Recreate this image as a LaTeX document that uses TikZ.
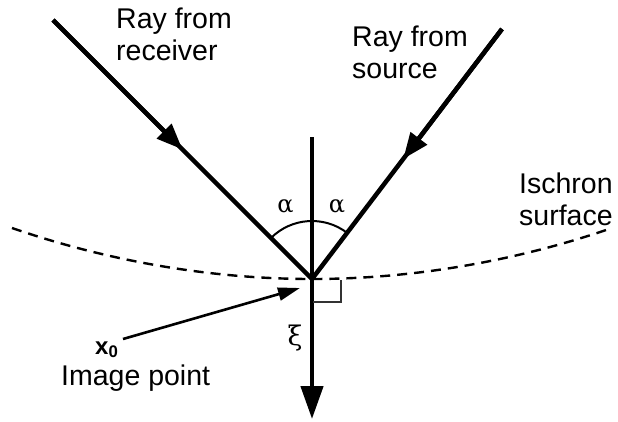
\documentclass[tikz,border=0pt]{standalone}
\usepackage{fontspec}
\setmainfont{Liberation Sans}
\newfontfamily\grkfont{DejaVu Serif}
\usetikzlibrary{arrows.meta,calc}
\begin{document}
\begin{tikzpicture}[x=1pt,y=-1pt,
  ray/.style={line width=4.5pt},
  raytip/.style={-{Triangle[length=26pt,width=20pt]}},
  lbl/.style={font=\fontsize{28.5}{32}\selectfont, align=left, inner sep=0pt, anchor=base west},
  greek/.style={font=\grkfont\fontsize{24}{27}\selectfont, inner sep=0pt},
]
\useasboundingbox (0,0) rectangle (618,421);
% points
\coordinate (P) at (312,279);
\coordinate (A) at (53,20);
\coordinate (B) at (502,29);
\coordinate (T) at (312,137);
\coordinate (Bot) at (312,419);
\coordinate (IL) at (12,228);
\coordinate (IR) at (612,228);
\coordinate (X0) at (123,339);
\coordinate (X0tip) at (300,288);
% isochron surface
\draw[line width=2.4pt, dash pattern=on 10pt off 7pt] (IL) parabola bend (P) (IR);
% rays
\draw[ray] (A) -- (P);
\draw[ray, raytip] (A) -- ($(A)!0.5!(P)$);
\draw[ray] (B) -- (P);
\draw[ray, raytip] (B) -- ($(B)!0.52!(P)$);
% normal xi
\draw[line width=3.6pt] (T) -- (P);
\draw[line width=4.5pt, -{Triangle[length=33pt,width=22pt]}] (P) -- (Bot);
% angle arc
\draw[line width=2pt] (P) ++(135:58pt) arc[start angle=135, end angle=52.8, radius=58pt];
% right angle
\draw[line width=1.4pt, black!80] (341,280) -- (341,302) -- (313,302);
% image point arrow
\draw[line width=2.6pt, -{Triangle[length=22pt,width=13pt]}] (X0) -- (X0tip);
% labels
\node[lbl] (recv) at (116,60) {Ray from\\receiver};
\node[lbl] (src) at (352,78) {Ray from\\source};
\node[lbl] (isc) at (519,225) {Ischron\\surface};
\node[lbl] (img) at (61,385) {Image point};
\node[inner sep=0pt, anchor=base west, font=\fontsize{24}{26}\selectfont\bfseries] (x0) at (95,354) {x\textsubscript{0}};
\node[greek] (al) at (285.5,206) {α};
\node[greek] (ar) at (337,206) {α};
\node[greek, font=\grkfont\fontsize{27}{30}\selectfont] (xi) at (295,338) {ξ};
\end{tikzpicture}
\end{document}
